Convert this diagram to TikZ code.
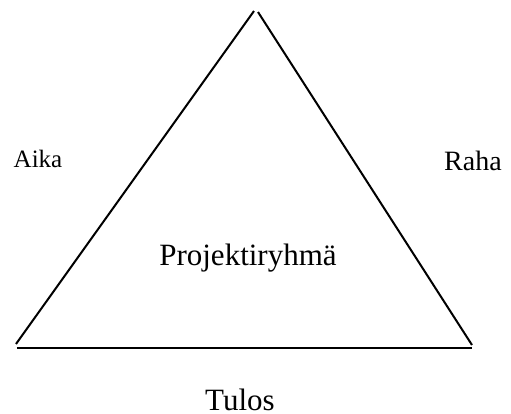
\documentclass[tikz,border=0pt]{standalone}
\usepackage{fontspec}
\setmainfont{Liberation Serif}
\usepackage{tikz}
\usetikzlibrary{positioning}

\tikzset{
    side/.style={line width=1pt, black},
    sidelabel/.style={anchor=base, inner sep=0pt}
}

\begin{document}
\begin{tikzpicture}[x=0.5pt, y=-0.5pt]
    \useasboundingbox (0,0) rectangle (511,414);

    % Corner points of the three sides
    \coordinate (leftTop) at (254,11);
    \coordinate (rightTop) at (258,12);
    \coordinate (leftBottom) at (16,344);
    \coordinate (rightBottom) at (472,345);
    \coordinate (baseLeft) at (17,348);
    \coordinate (baseRight) at (472,348);

    % Draw the sides of the triangle
    \draw[side] (leftBottom) -- (leftTop);
    \draw[side] (rightTop) -- (rightBottom);
    \draw[side] (baseLeft) -- (baseRight);

    % Label the sides
    \node[sidelabel, font=\fontsize{12.5}{15}\selectfont] (aika) at (38,167) {Aika};
    \node[sidelabel, font=\fontsize{14}{17}\selectfont] (raha) at (473,170) {Raha};
    \node[sidelabel, font=\fontsize{15.5}{18}\selectfont] (tulos) at (240,410) {Tulos};

    % Label the centre
    \node[sidelabel, font=\fontsize{15.5}{18}\selectfont] (ryhma) at (248,265) {Projektiryhmä};
\end{tikzpicture}
\end{document}
